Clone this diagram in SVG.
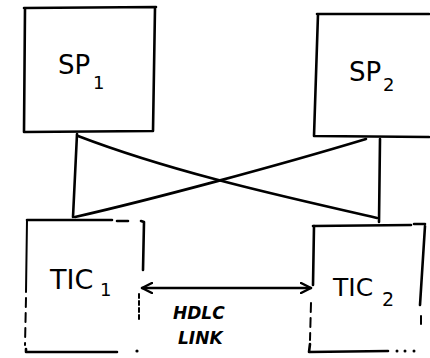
<svg xmlns="http://www.w3.org/2000/svg" width="430" height="358" viewBox="0 0 430 358">
  <style>
    .ink { fill: none; stroke: #000; stroke-width: 2.6; stroke-linecap: round; stroke-linejoin: round; }
    .thin { fill: none; stroke: #000; stroke-width: 2; stroke-linecap: round; }
    .dash { fill: none; stroke: #000; stroke-width: 2; stroke-dasharray: 9 6; stroke-linecap: round; }
    .lbl { font-family: "DejaVu Sans", "Liberation Sans", sans-serif; fill: #000; }
    .small { font-family: "DejaVu Sans", "Liberation Sans", sans-serif; font-style: italic; font-weight: bold; fill: #000; font-size: 17px; }
  </style>
  <defs>
    <marker id="open" viewBox="0 0 12 12" refX="11" refY="6" markerWidth="12" markerHeight="12" markerUnits="userSpaceOnUse" orient="auto-start-reverse">
      <path d="M1,1 L11,6 L1,11" fill="none" stroke="#000" stroke-width="2.4" stroke-linecap="round" stroke-linejoin="round"/>
    </marker>
  </defs>

  <rect width="430" height="358" fill="#fff"/>

  <g id="sp1">
    <path class="ink" d="M24,8 L156,7 M155,8 L153,131 L24,132 L25,8"/>
    <text class="lbl" x="58" y="74" font-size="26">SP</text>
    <text class="lbl" x="93" y="89" font-size="18">1</text>
  </g>

  <g id="sp2">
    <path class="ink" d="M317,14 L429,14 M318,14 L314,136 L429,137"/>
    <text class="lbl" x="349" y="81" font-size="26">SP</text>
    <text class="lbl" x="383" y="91" font-size="18">2</text>
  </g>

  <g id="tic1">
    <path class="ink" d="M27,220 L112,220 M117,221 L128,221 M141,221 L144,222 L143,270"/>
    <path class="thin" d="M27,220 L26,292"/>
    <path class="dash" d="M26,298 L25,345"/>
    <path class="thin" d="M139,294 L139,322" stroke-dasharray="4 3"/>
    <path class="ink" d="M26,349 L26,352 L117,352"/>
    <circle cx="137" cy="351" r="1.6" fill="#000"/>
    <text class="lbl" x="50" y="289" font-size="27">TIC</text>
    <text class="lbl" x="100" y="296" font-size="18">1</text>
  </g>

  <g id="tic2">
    <path class="ink" d="M313,226 L411,225 M414,224 L425,224 M425,226 L420,305"/>
    <path class="ink" d="M314,226 L313,285"/>
    <path class="dash" d="M311,303 L310,340"/>
    <path class="thin" d="M421,316 L421,324"/>
    <path class="ink" d="M310,344 L309,352 L388,351"/>
    <circle cx="397" cy="351" r="1.5" fill="#000"/>
    <circle cx="405" cy="351" r="1.5" fill="#000"/>
    <circle cx="414" cy="351" r="1.5" fill="#000"/>
    <text class="lbl" x="333" y="296" font-size="25">TIC</text>
    <text class="lbl" x="382" y="306" font-size="19">2</text>
  </g>

  <g id="connectors">
    <path class="ink" d="M77,134 L73,217"/>
    <path class="ink" d="M380,139 L379,222"/>
    <path class="ink" d="M78,136 C180,175 300,200 377,218"/>
    <path class="ink" d="M366,139 C280,165 150,200 75,217"/>
    <path class="ink" d="M142,288 L311,288" marker-start="url(#open)" marker-end="url(#open)"/>
    <text class="small" x="173" y="319">HDLC</text>
    <text class="small" x="178" y="344">LINK</text>
  </g>
</svg>
